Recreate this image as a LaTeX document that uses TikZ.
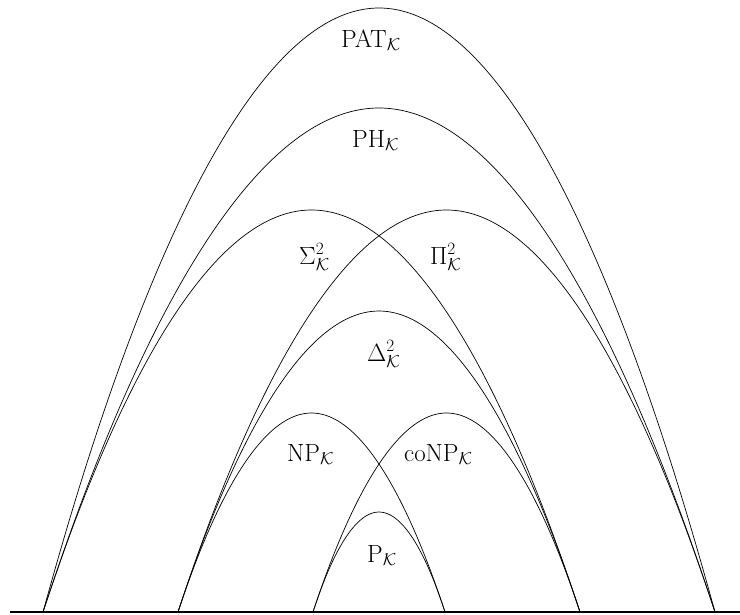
\documentclass[tikz,border=0pt]{standalone}
\usepackage{amsmath}
\begin{document}
\begin{tikzpicture}[x=1pt,y=-1pt,
  arch/.style={line width=0.7pt},
  lbl/.style={anchor=base west,inner sep=0pt,font=\fontsize{25.5}{30}\selectfont}]
\useasboundingbox (0,0) rectangle (740,614);
\draw[line width=1.8pt] (10,612) -- (740,612);
% arches
\draw[arch] (43,612) parabola bend (379,8) (715,612);
\draw[arch] (43,612) parabola bend (379,108) (715,612);
\draw[arch] (43,612) parabola bend (311.5,210) (580,612);
\draw[arch] (178,612) parabola bend (446.5,210) (715,612);
\draw[arch] (178,612) parabola bend (379,311) (580,612);
\draw[arch] (178,612) parabola bend (311.5,413) (445,612);
\draw[arch] (313,612) parabola bend (446.5,413) (580,612);
\draw[arch] (313,612) parabola bend (379,512) (445,612);
% labels
\node[lbl] (pat) at (341,47) {$\mathrm{PAT}_{\mathcal{K}}$};
\node[lbl] (ph) at (352,147) {$\mathrm{PH}_{\mathcal{K}}$};
\node[lbl] (sig) at (299,264) {$\Sigma^2_{\mathcal{K}}$};
\node[lbl] (pi) at (430,264) {$\Pi^2_{\mathcal{K}}$};
\node[lbl] (del) at (367,361) {$\Delta^2_{\mathcal{K}}$};
\node[lbl] (np) at (287,461) {$\mathrm{NP}_{\mathcal{K}}$};
\node[lbl] (conp) at (404,461) {$\mathrm{coNP}_{\mathcal{K}}$};
\node[lbl] (p) at (367,562) {$\mathrm{P}_{\mathcal{K}}$};
\end{tikzpicture}
\end{document}
